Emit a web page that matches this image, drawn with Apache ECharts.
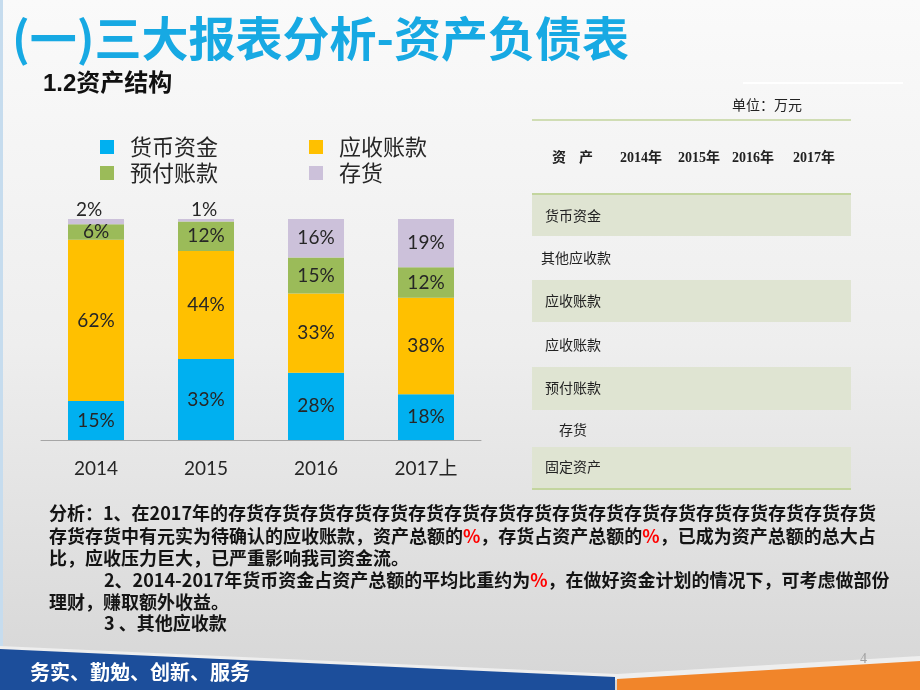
<!DOCTYPE html>
<html>
<head>
<meta charset="utf-8">
<script src="https://cdn.jsdelivr.net/npm/echarts@6/dist/echarts.min.js"></script>
<style>html,body{margin:0;padding:0;}#c{width:920px;height:690px;}</style>
</head>
<body>
<div id="c"></div>
<script>
// ---- data ----
const categories = ['2014', '2015', '2016', '2017上'];
const seriesNames = ['货币资金', '应收账款', '预付账款', '存货'];
const cash = [15, 33, 28, 18];
const receivable = [62, 44, 33, 38];
const prepaid = [6, 12, 15, 12];
const inventory = [2, 1, 16, 19];

const pageTitle = '(一)三大报表分析-资产负债表';
const subTitle = '1.2资产结构';
const unitText = '单位：万元';
const tableYears = ['2014年', '2015年', '2016年', '2017年'];
const tableRows = ['货币资金', '其他应收款', '应收账款', '应收账款', '预付账款', '存货', '固定资产'];
const analysisLines = [
  '分析：1、在2017年的' + '存货'.repeat(18),
  '存货存货中有元实为待确认的应收账款，资产总额的{r|%}，存货占资产总额的{r|%}，已成为资产总额的总大占',
  '比，应收压力巨大，已严重影响我司资金流。',
  '2、2014-2017年货币资金占资产总额的平均比重约为{r|%}，在做好资金计划的情况下，可考虑做部份',
  '理财，赚取额外收益。',
  '3 、其他应收款'
];
const footerText = '务实、勤勉、创新、服务';
const pageNo = '4';

// ---- build ----
const rawSeries = [cash, receivable, prepaid, inventory];
const totals = categories.map((_, i) => rawSeries.reduce((s, arr) => s + arr[i], 0));
const colors = ['#00b0f0', '#ffc000', '#9bbb59', '#ccc1da'];
const labelFont = 'Lato, "Noto Sans CJK SC", sans-serif';
const cjk = '"Noto Sans CJK SC", sans-serif';

const series = rawSeries.map((arr, si) => ({
  name: seriesNames[si],
  type: 'bar',
  stack: 'total',
  barWidth: 56,
  itemStyle: { color: colors[si] },
  label: {
    show: true,
    position: 'inside',
    fontSize: 19,
    color: '#262626',
    fontFamily: labelFont,
    formatter: p => arr[p.dataIndex] + '%'
  },
  data: arr.map((v, i) => {
    const item = { value: v / totals[i] * 100 };
    if (si === 3 && v < 5) {
      item.label = { position: 'top', distance: 0, offset: [i === 0 ? -7 : -2, 0] };
    }
    return item;
  })
}));

const graphics = [];
// left border
graphics.push({ type: 'rect', shape: { x: 0, y: 0, width: 3, height: 650 }, style: { fill: '#c6dcee' }, z: 1 });
// white decorative line
graphics.push({ type: 'line', shape: { x1: 743, y1: 83, x2: 903, y2: 83 }, style: { stroke: '#ffffff', lineWidth: 2 }, z: 1 });
// title
graphics.push({ type: 'text', x: 12, y: 38, style: { text: pageTitle, fontSize: 47, fontWeight: 'bold', fontFamily: cjk, fill: '#17a9e3', verticalAlign: 'middle' }, z: 2 });
graphics.push({ type: 'text', x: 43, y: 84, style: { text: subTitle, fontSize: 24, fontWeight: 'bold', fontFamily: '"Liberation Sans", "Noto Sans CJK SC", sans-serif', fill: '#111111', verticalAlign: 'middle' }, z: 2 });
// table
graphics.push({ type: 'text', x: 732, y: 105, style: { text: unitText, fontSize: 14, fontFamily: cjk, fill: '#222222', verticalAlign: 'middle' }, z: 2 });
const bandY = [[194, 236], [280, 322], [367, 410], [447, 489]];
bandY.forEach(b => graphics.push({ type: 'rect', shape: { x: 532, y: b[0], width: 319, height: b[1] - b[0] }, style: { fill: '#dfe4d2' }, z: 1 }));
[120, 194, 489].forEach(y => graphics.push({ type: 'line', shape: { x1: 532, y1: y, x2: 851, y2: y }, style: { stroke: '#c3d59e', lineWidth: y === 120 ? 1.5 : 2 }, z: 2 }));
const hdrFont = '"Liberation Serif", "Noto Sans CJK SC", serif';
graphics.push({ type: 'text', x: 552, y: 158, style: { text: '资', fontSize: 14, fontWeight: 'bold', fontFamily: hdrFont, fill: '#222', verticalAlign: 'middle' }, z: 2 });
graphics.push({ type: 'text', x: 579, y: 158, style: { text: '产', fontSize: 14, fontWeight: 'bold', fontFamily: hdrFont, fill: '#222', verticalAlign: 'middle' }, z: 2 });
const yearX = [620, 678, 732, 793];
tableYears.forEach((t, i) => graphics.push({ type: 'text', x: yearX[i], y: 158, style: { text: t, fontSize: 14, fontWeight: 'bold', fontFamily: hdrFont, fill: '#222', verticalAlign: 'middle' }, z: 2 }));
const rowY = [216, 258, 301, 345, 388, 430, 467];
const rowX = [545, 541, 545, 545, 545, 559, 545];
tableRows.forEach((t, i) => graphics.push({ type: 'text', x: rowX[i], y: rowY[i], style: { text: t, fontSize: 14, fontFamily: cjk, fill: '#222', verticalAlign: 'middle' }, z: 2 }));
// analysis
const lineX = [49, 49, 49, 104, 49, 104];
const lineY = [513, 536, 558, 580, 602, 623];
analysisLines.forEach((t, i) => graphics.push({
  type: 'text', x: lineX[i], y: lineY[i],
  style: {
    text: t, fontSize: 18, fontWeight: 'bold', fontFamily: cjk, fill: '#141414', verticalAlign: 'middle',
    rich: { r: { fill: '#ff0000', fontSize: 18, fontWeight: 'bold', fontFamily: cjk } }
  }, z: 2
}));
// footer
graphics.push({ type: 'polygon', shape: { points: [[0, 646], [617, 674], [920, 656], [920, 662], [617, 680], [0, 652]] }, style: { fill: '#eeeeee' }, z: 1 });
graphics.push({ type: 'polygon', shape: { points: [[0, 649], [615, 677], [615, 690], [0, 690]] }, style: { fill: '#1c4e9b' }, z: 2 });
graphics.push({ type: 'polygon', shape: { points: [[617, 679], [920, 661], [920, 690], [617, 690]] }, style: { fill: '#f1852a' }, z: 2 });
graphics.push({ type: 'text', x: 30, y: 672, style: { text: footerText, fontSize: 20, fontWeight: 'bold', fontFamily: cjk, fill: '#ffffff', verticalAlign: 'middle' }, z: 3 });
graphics.push({ type: 'text', x: 860, y: 659, style: { text: pageNo, fontSize: 14, fontFamily: '"Liberation Serif", serif', fill: '#a0a0a0', verticalAlign: 'middle' }, z: 3 });

const legendBase = {
  left: 100, itemWidth: 14, itemHeight: 14, itemGap: 91, padding: 0, icon: 'rect',
  textStyle: { fontSize: 22, color: '#262626', fontFamily: cjk, padding: [0, 0, 0, 11], lineHeight: 24 }
};

const option = {
  animation: false,
  backgroundColor: {
    type: 'linear', x: 0, y: 0, x2: 0, y2: 1,
    colorStops: [{ offset: 0, color: '#fafafa' }, { offset: 0.5, color: '#eeeeee' }, { offset: 1, color: '#d6d6d6' }]
  },
  legend: [
    Object.assign({}, legendBase, { top: 135, data: [seriesNames[0], seriesNames[1]] }),
    Object.assign({}, legendBase, { top: 161, data: [seriesNames[2], seriesNames[3]] })
  ],
  grid: { left: 41, width: 440, top: 219, height: 221 },
  xAxis: {
    type: 'category', data: categories,
    axisLine: { lineStyle: { color: '#a6a6a6', width: 1 } },
    axisTick: { show: false },
    axisLabel: { fontSize: 19, color: '#262626', fontFamily: labelFont, margin: 19 }
  },
  yAxis: { type: 'value', min: 0, max: 100, show: false },
  series: series,
  graphic: { elements: graphics }
};

const chart = echarts.init(document.getElementById('c'));
chart.setOption(option);
</script>
</body>
</html>
